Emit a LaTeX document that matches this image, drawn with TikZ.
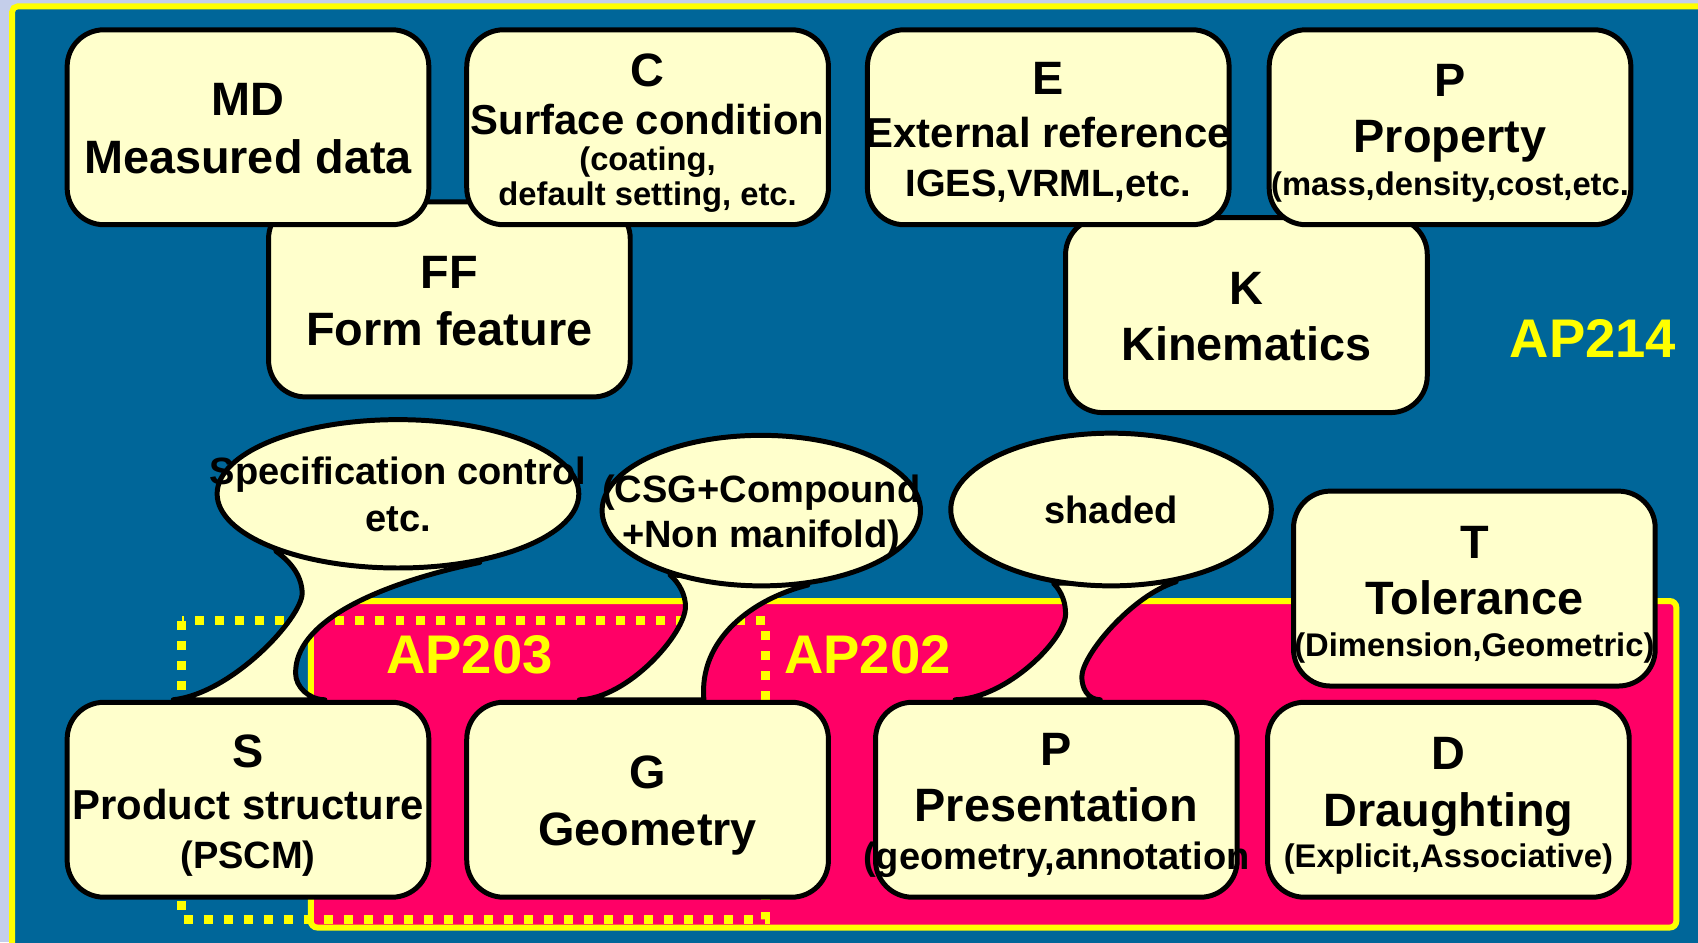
\documentclass[tikz,border=0pt]{standalone}
\usepackage{fontspec}
\setmainfont{Liberation Sans}
\usetikzlibrary{shapes.geometric,calc}

\definecolor{slideblue}{RGB}{0,102,153}
\definecolor{outside}{RGB}{196,206,234}
\definecolor{appink}{RGB}{255,0,102}
\definecolor{apyellow}{RGB}{255,255,0}
\definecolor{boxfill}{RGB}{255,255,204}

% font sizes (baselineskip 0: line distances are given with \\[..])
\newcommand\bigtxt{\fontsize{12.3}{0}\selectfont}
\newcommand\midtxt{\fontsize{11}{0}\selectfont}
\newcommand\eltxt{\fontsize{10}{0}\selectfont}
\newcommand\smalltxt{\fontsize{8.6}{0}\selectfont}
\newcommand\aptxt{\fontsize{14.3}{0}\selectfont}
\newcommand\capstrut{\rule{0pt}{0.95em}}
\newcommand\descstrut{\rule[-0.212em]{0pt}{0.212em}}
\newcommand\overhang[1]{\makebox[0pt]{#1}}
\lineskiplimit=-\maxdimen

\pgfdeclarelayer{bg}
\pgfdeclarelayer{stems}
\pgfsetlayers{bg,stems,main}

\tikzset{
  box/.style={rectangle, rounded corners=3.4mm, draw=black, line width=0.46mm,
              fill=boxfill, minimum width=33.4mm, minimum height=18mm,
              inner sep=0pt, align=center, font=\bigtxt\bfseries},
  bubble/.style={ellipse, draw=black, line width=0.46mm, fill=boxfill,
                 inner sep=0pt, align=center, font=\eltxt\bfseries},
  stem/.style={draw=black, line width=0.46mm, fill=boxfill, line join=round},
  aplabel/.style={text=apyellow, font=\aptxt\bfseries, inner sep=0pt, anchor=base},
  ap202area/.style={draw=apyellow, fill=appink, line width=0.55mm, rounded corners=0.6mm},
  ap203frame/.style={draw=apyellow, line width=0.83mm, dash pattern=on 0.83mm off 1.02mm},
}

\begin{document}
\begin{tikzpicture}[x=0.1mm, y=-0.1mm]
    \useasboundingbox (0,0) rectangle (1568,870);

    % Slide background, AP202 area and AP203 frame
    \begin{pgfonlayer}{bg}
      \fill[outside] (0,0) rectangle (1568,870);
      \draw[draw=apyellow, fill=slideblue, line width=0.54mm, rounded corners=0.5mm] (11.2,5.9) rectangle (1576,878);
      \draw[ap202area] (287,555) rectangle (1548,856.5);
      \draw[ap203frame] (168,573) rectangle (707,849);
      \node[aplabel] (ap214) at (1471,330) {AP214};
      \node[aplabel] (ap203) at (433.5,621.5) {AP203};
      \node[aplabel] (ap202) at (801,621.5) {AP202};
    \end{pgfonlayer}

    % Second row (behind the top row)
    \node[box] (ff) at (415,276.5) {\capstrut FF\\[5.23mm] Form feature\descstrut};
    \node[box] (kin) at (1151,291) {\capstrut K\\[5.14mm] Kinematics\descstrut};

    % Top row
    \node[box] (md) at (229,117.5) {\capstrut MD\\[5.3mm] Measured data\descstrut};
    \node[box] (cond) at (598,117.5) {\capstrut C\\[4.4mm] {\midtxt Surface condition}\\[3.38mm] {\smalltxt (coating,}\\[3.23mm] {\smalltxt default setting, etc.\descstrut}};
    \node[box] (ext) at (968,117.5) {\capstrut E\\[4.85mm] \overhang{\midtxt External reference}\\[4.5mm] {\eltxt IGES,VRML,etc.\descstrut}};
    \node[box] (prop) at (1339,117.5) {\capstrut P\\[5.22mm] Property\\[4mm] \overhang{\smalltxt (mass,density,cost,etc.\descstrut}};

    % Bubbles
    \node[bubble, minimum width=33.4mm, minimum height=13.7mm] (spec) at (367.5,456) {\overhang{\capstrut Specification control}\\[4.3mm] \overhang{etc.\descstrut}};
    \node[bubble, minimum width=29.4mm, minimum height=13.9mm] (csg) at (703,471.5) {\overhang{\capstrut (CSG+Compound}\\[4.17mm] \overhang{+Non manifold)\descstrut}};
    \node[bubble, minimum width=29.6mm, minimum height=14.1mm] (shd) at (1026,470.5) {\capstrut shaded\descstrut};

    % Bottom row and tolerance
    \node[box] (tol) at (1361.5,543.5) {\capstrut T\\[5.2mm] Tolerance\\[3.87mm] \overhang{\smalltxt (Dimension,Geometric)\descstrut}};
    \node[box] (struct) at (229,738.5) {\capstrut S\\[4.8mm] {\midtxt Product structure}\\[4.6mm] {\eltxt (PSCM)\descstrut}};
    \node[box] (geom) at (598,738.5) {\capstrut G\\[5.2mm] Geometry\descstrut};
    \node[box] (pres) at (975.5,738.5) {\capstrut P\\[5.17mm] Presentation\\[4.43mm] \overhang{\eltxt (geometry,annotation\descstrut}};
    \node[box] (draft) at (1337.5,738.5) {\capstrut D\\[5.2mm] Draughting\\[3.8mm] {\smalltxt (Explicit,Associative)\descstrut}};

    % Stems from bubbles down to boxes
    \begin{pgfonlayer}{stems}
      \draw[stem] (spec.205) .. controls (270,520) and (279,533) .. (279,548)
        .. controls (279,570) and (215,640) .. ($(struct.north)+(-69,0)$)
        -- ($(struct.north)+(71,0)$)
        .. controls (285,646) and (273,634) .. (273,622)
        .. controls (272,575) and (345,540) .. (spec.320) -- cycle;
      \draw[stem] (csg.215) .. controls (628,539) and (633,550) .. (633,560)
        .. controls (633,585) and (580,645) .. ($(geom.north)+(-63,0)$)
        -- ($(geom.north)+(52,0)$)
        .. controls (645,590) and (695,553) .. (csg.302) -- cycle;
      \draw[stem] (shd.232) .. controls (981,547) and (984,557) .. (984,567)
        .. controls (984,590) and (930,645) .. ($(pres.north)+(-93.5,0)$)
        -- ($(pres.north)+(40.5,0)$)
        .. controls (1004,646) and (999,635) .. (999,625)
        .. controls (999,605) and (1045,550) .. (shd.312) -- cycle;
    \end{pgfonlayer}
\end{tikzpicture}
\end{document}
